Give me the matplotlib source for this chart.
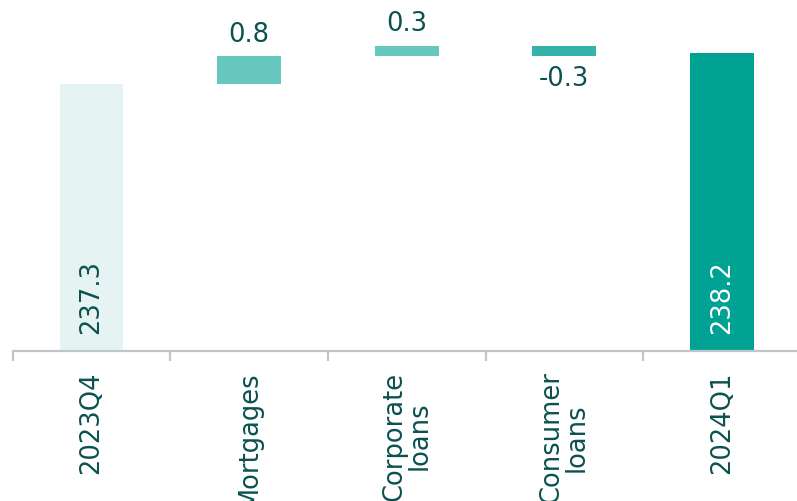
import numpy as np
import matplotlib.pyplot as plt

# Waterfall data
categories = ["2023Q4", "Mortgages", "Corporate\nloans", "Consumer\nloans", "2024Q1"]
start_value = 237.3
changes = [0.8, 0.3, -0.3]
end_value = 238.2
baseline = 229.54

colors = ["#E5F4F2", "#66C7BF", "#66C7BF", "#33B3AA", "#00A393"]
text_color = "#0B5150"
axis_color = "#BFC5CA"

plt.rcParams['font.family'] = ['DejaVu Sans']
fs = 18.5

fig = plt.figure(figsize=(7.97, 5.02), dpi=100)
ax = fig.add_axes([12.7 / 797, 150 / 502, 788 / 797, 352 / 502])

x = np.arange(len(categories))
width = 0.406

# totals
ax.bar(x[0], start_value - baseline, bottom=baseline, width=width, color=colors[0])
ax.bar(x[-1], end_value - baseline, bottom=baseline, width=width, color=colors[-1])

# changes
level = start_value
for i, d in enumerate(changes):
    xi = x[i + 1]
    ax.bar(xi, d, bottom=level, width=width, color=colors[i + 1])
    if d >= 0:
        ax.annotate(f"{d:.1f}", (xi, level + d), xytext=(0, 7), textcoords="offset points",
                    ha="center", va="bottom", fontsize=fs, color=text_color)
    else:
        ax.annotate(f"{d:.1f}", (xi, level + d), xytext=(0, -6), textcoords="offset points",
                    ha="center", va="top", fontsize=fs, color=text_color)
    level += d

ax.annotate(f"{start_value:.1f}", (x[0], baseline), xytext=(0, 13), textcoords="offset points",
            ha="center", va="bottom", rotation=90, fontsize=fs, color=text_color)
ax.annotate(f"{end_value:.1f}", (x[-1], baseline), xytext=(0, 13), textcoords="offset points",
            ha="center", va="bottom", rotation=90, fontsize=fs, color="white")

ax.set_xlim(-0.5, len(categories) - 0.5)
ax.set_ylim(baseline, end_value + 54 / 34.4)

for s in ["top", "right", "left"]:
    ax.spines[s].set_visible(False)
ax.spines["bottom"].set_color(axis_color)
ax.spines["bottom"].set_linewidth(1.6)
ax.set_yticks([])

ax.set_xticks(x)
ax.set_xticklabels(categories, rotation=90, fontsize=fs, color=text_color,
                   ha="center", va="top", linespacing=0.95)
ax.tick_params(axis="x", which="major", length=0, pad=14)
ax.set_xticks(np.arange(len(categories) + 1) - 0.5, minor=True)
ax.tick_params(axis="x", which="minor", length=7, width=1.6, color=axis_color)

fig.savefig("out.png", dpi=100)
